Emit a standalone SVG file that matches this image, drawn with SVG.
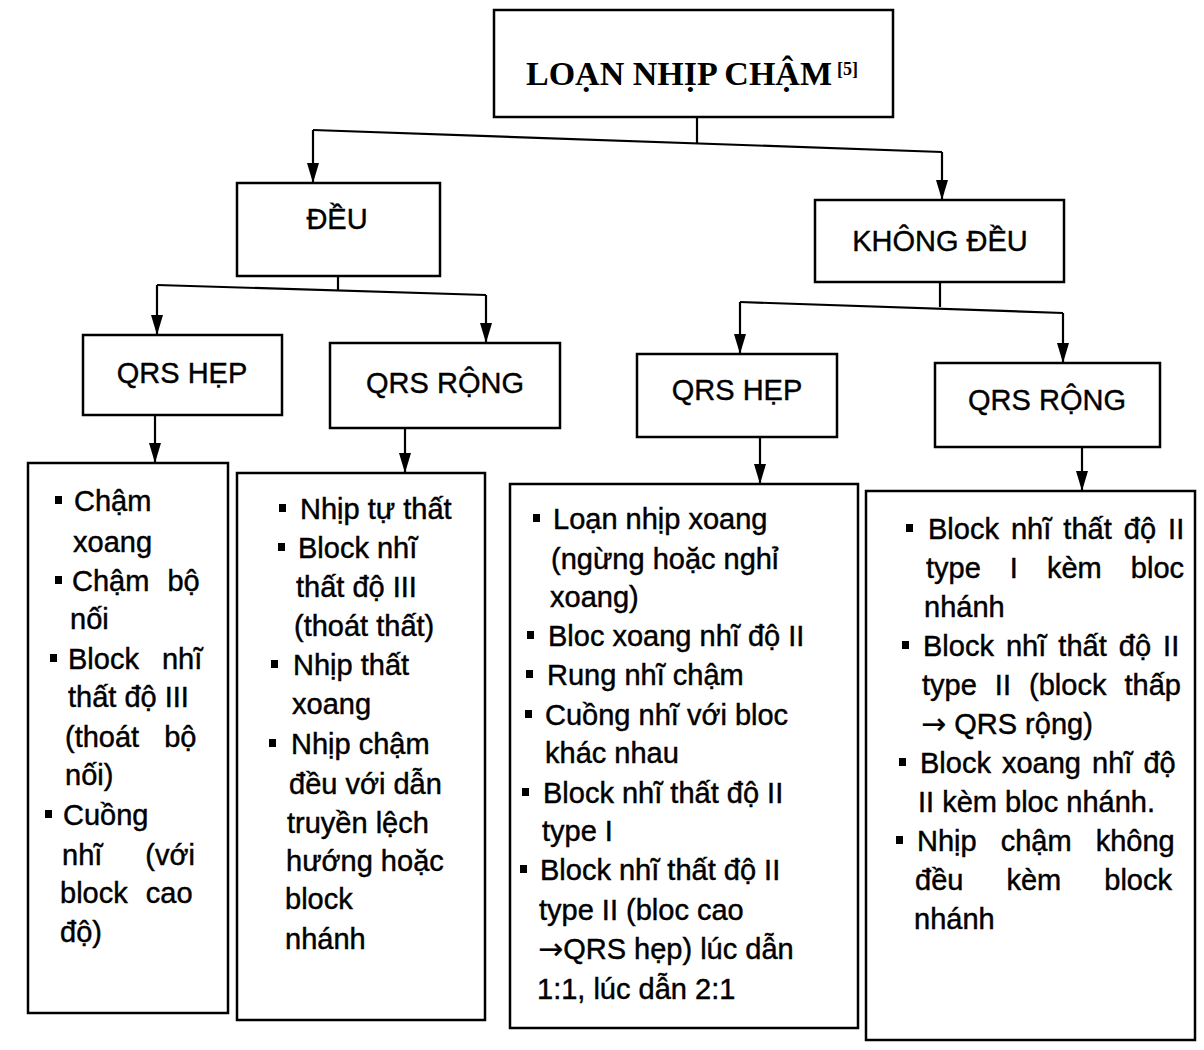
<svg xmlns="http://www.w3.org/2000/svg" width="1204" height="1050" viewBox="0 0 1204 1050">
<style>
.box{fill:#fff;stroke:#000;stroke-width:2.5}
.ln{fill:none;stroke:#000;stroke-width:2.2}
.ttl{font-family:"Liberation Serif","Times New Roman",serif;font-weight:bold;font-size:34px;fill:#000}
.sup{font-family:"Liberation Serif","Times New Roman",serif;font-weight:bold;font-size:18px;fill:#000}
.hd{font-family:"Liberation Sans",Arial,sans-serif;font-size:29px;fill:#000;text-anchor:middle;stroke:#000;stroke-width:0.4}
.tx{font-family:"Liberation Sans",Arial,sans-serif;font-size:29px;fill:#000;stroke:#000;stroke-width:0.45}
.ar{font-family:"DejaVu Sans",sans-serif;font-size:30px;stroke-width:0.2}
.b{fill:#000}
</style>
<defs>
<marker id="ah" viewBox="0 0 20 12" refX="20" refY="6" markerWidth="20" markerHeight="12" markerUnits="userSpaceOnUse" orient="auto">
<path d="M0,0 L20,6 L0,12 z" fill="#000"/>
</marker>
</defs>
<rect width="1204" height="1050" fill="#fff"/>

<g id="connectors">
<path class="ln" d="M697,117 L697,143"/>
<path class="ln" d="M313,130 L942,152"/>
<path class="ln" d="M313,130 L313,183" marker-end="url(#ah)"/>
<path class="ln" d="M942,152 L942,200" marker-end="url(#ah)"/>
<path class="ln" d="M338,276 L338,290"/>
<path class="ln" d="M157,285 L486,295"/>
<path class="ln" d="M157,285 L157,335" marker-end="url(#ah)"/>
<path class="ln" d="M486,295 L486,343" marker-end="url(#ah)"/>
<path class="ln" d="M940,282 L940,307"/>
<path class="ln" d="M740,302 L1063,313"/>
<path class="ln" d="M740,302 L740,354" marker-end="url(#ah)"/>
<path class="ln" d="M1063,313 L1063,363" marker-end="url(#ah)"/>
<path class="ln" d="M155,415 L155,463" marker-end="url(#ah)"/>
<path class="ln" d="M405,428 L405,473" marker-end="url(#ah)"/>
<path class="ln" d="M760,437 L760,484" marker-end="url(#ah)"/>
<path class="ln" d="M1082,447 L1082,491" marker-end="url(#ah)"/>
</g>

<g id="root">
<rect class="box" x="494" y="10" width="399" height="107"/>
<text class="ttl" x="526" y="85">LOẠN NHỊP CHẬM</text>
<text class="sup" x="837" y="75">[5]</text>
</g>

<g id="deu">
<rect class="box" x="237" y="183" width="203" height="93"/>
<text class="hd" x="337" y="229">ĐỀU</text>
</g>

<g id="khongdeu">
<rect class="box" x="815" y="200" width="249" height="82"/>
<text class="hd" x="940" y="251">KHÔNG ĐỀU</text>
</g>

<g id="qrs-hep-1">
<rect class="box" x="83" y="335" width="199" height="80"/>
<text class="hd" x="182" y="383">QRS HẸP</text>
</g>

<g id="qrs-rong-1">
<rect class="box" x="330" y="343" width="230" height="85"/>
<text class="hd" x="445" y="393">QRS RỘNG</text>
</g>

<g id="qrs-hep-2">
<rect class="box" x="637" y="354" width="200" height="83"/>
<text class="hd" x="737" y="400">QRS HẸP</text>
</g>

<g id="qrs-rong-2">
<rect class="box" x="935" y="363" width="225" height="84"/>
<text class="hd" x="1047" y="410">QRS RỘNG</text>
</g>

<g id="list-1">
<rect class="box" x="28" y="463" width="200" height="550"/>
<rect class="b" x="55" y="496" width="7" height="8"/>
<text class="tx" x="74" y="511">Chậm</text>
<text class="tx" x="73" y="552">xoang</text>
<rect class="b" x="55" y="576" width="7" height="8"/>
<text class="tx" x="72" y="591" word-spacing="10">Chậm bộ</text>
<text class="tx" x="70" y="629">nối</text>
<rect class="b" x="50" y="654" width="7" height="8"/>
<text class="tx" x="68" y="669" word-spacing="15">Block nhĩ</text>
<text class="tx" x="68" y="707">thất độ III</text>
<text class="tx" x="65" y="747" word-spacing="17">(thoát bộ</text>
<text class="tx" x="65" y="785">nối)</text>
<rect class="b" x="45" y="810" width="7" height="8"/>
<text class="tx" x="63" y="825">Cuồng</text>
<text class="tx" x="62" y="865" word-spacing="35">nhĩ (với</text>
<text class="tx" x="60" y="903" word-spacing="10">block cao</text>
<text class="tx" x="60" y="942">độ)</text>
</g>

<g id="list-2">
<rect class="box" x="237" y="473" width="248" height="547"/>
<rect class="b" x="279" y="504" width="7" height="8"/>
<text class="tx" x="300" y="519">Nhịp tự thất</text>
<rect class="b" x="278" y="543" width="7" height="8"/>
<text class="tx" x="298" y="558">Block nhĩ</text>
<text class="tx" x="296" y="597">thất độ III</text>
<text class="tx" x="294" y="636">(thoát thất)</text>
<rect class="b" x="271" y="660" width="7" height="8"/>
<text class="tx" x="293" y="675">Nhịp thất</text>
<text class="tx" x="292" y="714">xoang</text>
<rect class="b" x="269" y="739" width="7" height="8"/>
<text class="tx" x="291" y="754">Nhịp chậm</text>
<text class="tx" x="289" y="794">đều với dẫn</text>
<text class="tx" x="287" y="833">truyền lệch</text>
<text class="tx" x="286" y="871">hướng hoặc</text>
<text class="tx" x="285" y="909">block</text>
<text class="tx" x="285" y="949">nhánh</text>
</g>

<g id="list-3">
<rect class="box" x="510" y="484" width="348" height="544"/>
<rect class="b" x="533" y="514" width="7" height="8"/>
<text class="tx" x="553" y="529">Loạn nhịp xoang</text>
<text class="tx" x="551" y="569">(ngừng hoặc nghỉ</text>
<text class="tx" x="550" y="607">xoang)</text>
<rect class="b" x="527" y="631" width="7" height="8"/>
<text class="tx" x="548" y="646">Bloc xoang nhĩ độ II</text>
<rect class="b" x="526" y="670" width="7" height="8"/>
<text class="tx" x="547" y="685">Rung nhĩ chậm</text>
<rect class="b" x="525" y="710" width="7" height="8"/>
<text class="tx" x="545" y="725">Cuồng nhĩ với bloc</text>
<text class="tx" x="545" y="763">khác nhau</text>
<rect class="b" x="522" y="788" width="7" height="8"/>
<text class="tx" x="543" y="803">Block nhĩ thất độ II</text>
<text class="tx" x="542" y="841">type I</text>
<rect class="b" x="520" y="865" width="7" height="8"/>
<text class="tx" x="540" y="880">Block nhĩ thất độ II</text>
<text class="tx" x="539" y="920">type II (bloc cao</text>
<text class="tx" x="538" y="959"><tspan class="ar">→</tspan>QRS hẹp) lúc dẫn</text>
<text class="tx" x="537" y="999">1:1, lúc dẫn 2:1</text>
</g>

<g id="list-4">
<rect class="box" x="866" y="491" width="329" height="549"/>
<rect class="b" x="906" y="524" width="7" height="8"/>
<text class="tx" x="928" y="539" word-spacing="4">Block nhĩ thất độ II</text>
<text class="tx" x="926" y="578" word-spacing="21">type I kèm bloc</text>
<text class="tx" x="924" y="617">nhánh</text>
<rect class="b" x="902" y="641" width="7" height="8"/>
<text class="tx" x="923" y="656" word-spacing="4">Block nhĩ thất độ II</text>
<text class="tx" x="922" y="695" word-spacing="10">type II (block thấp</text>
<text class="tx" x="921" y="734"><tspan class="ar">→</tspan> QRS rộng)</text>
<rect class="b" x="899" y="758" width="7" height="8"/>
<text class="tx" x="920" y="773" word-spacing="3">Block xoang nhĩ độ</text>
<text class="tx" x="918" y="812">II kèm bloc nhánh.</text>
<rect class="b" x="896" y="836" width="7" height="8"/>
<text class="tx" x="917" y="851" word-spacing="16">Nhịp chậm không</text>
<text class="tx" x="915" y="890" word-spacing="35">đều kèm block</text>
<text class="tx" x="914" y="929">nhánh</text>
</g>
</svg>
